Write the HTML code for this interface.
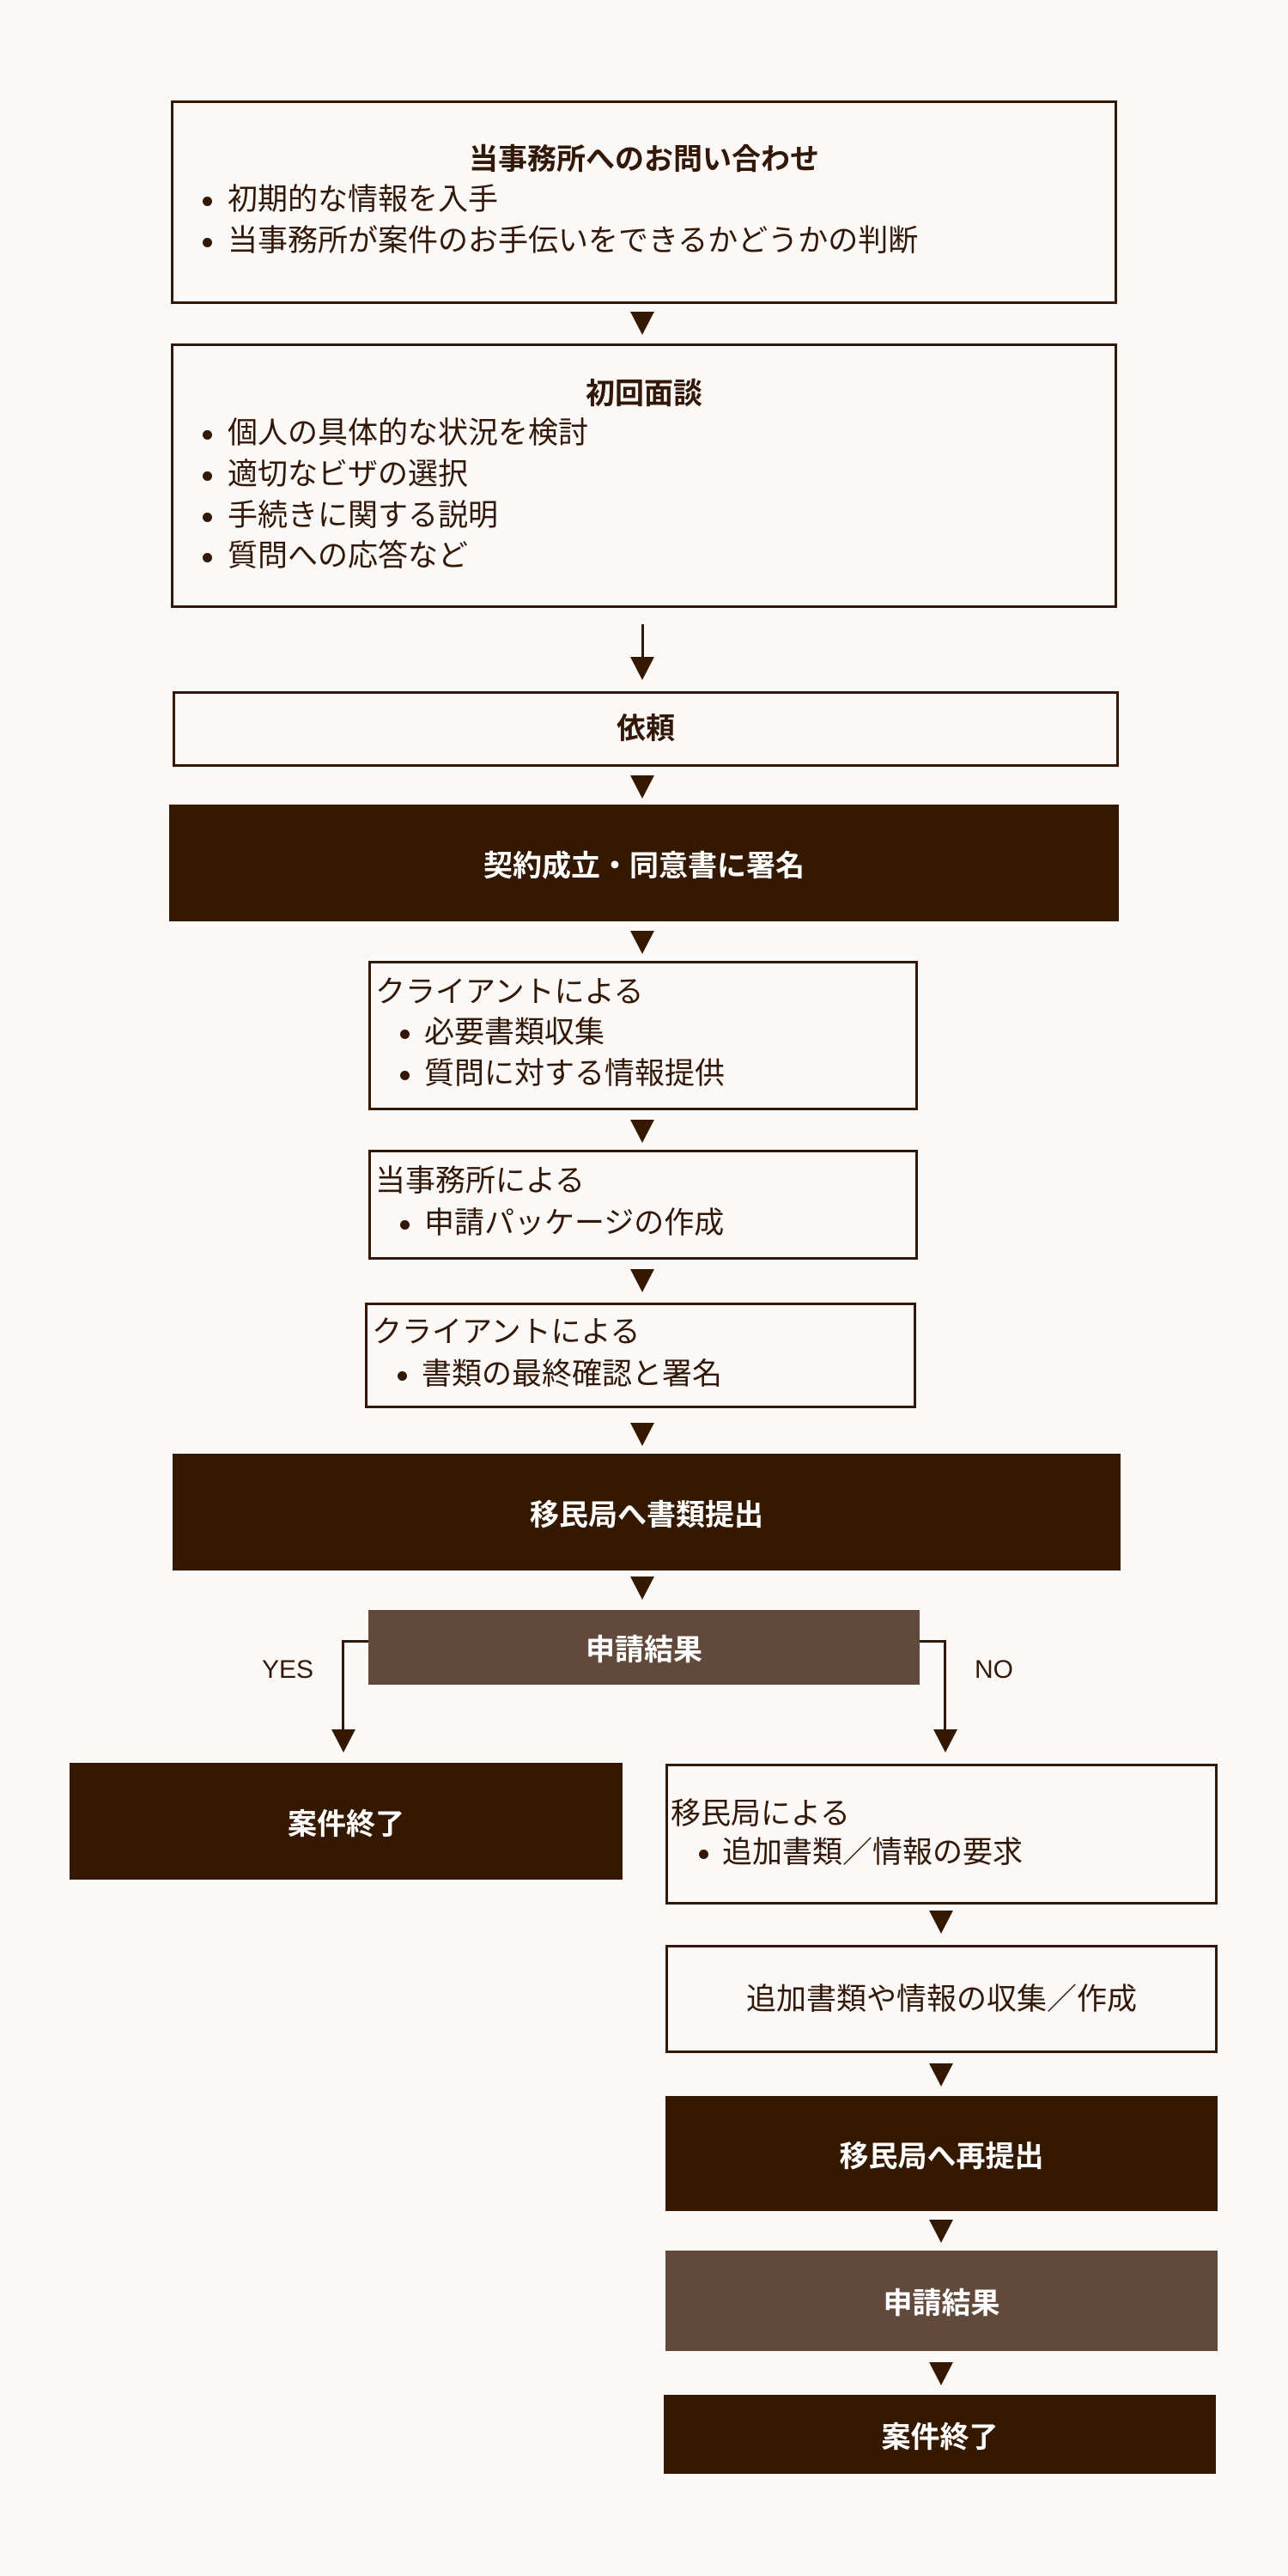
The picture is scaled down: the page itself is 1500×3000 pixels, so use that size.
<!DOCTYPE html>
<html><head><meta charset="utf-8"><style>
*{box-sizing:border-box;margin:0;padding:0}
body{width:1500px;height:3000px;background:#faf9f7;position:relative;font-family:"Liberation Sans","Noto Sans CJK JP",sans-serif;color:#331807;overflow:hidden}
.b{position:absolute;border:3px solid #331807;background:#faf9f7}
.d{position:absolute;background:#341800;color:#fff;font-weight:bold;font-size:34px;display:flex;align-items:center;justify-content:center}
.m{background:#614a3b}
.t{position:absolute;font-size:35px;white-space:nowrap;line-height:44px}
.bo{font-weight:bold;font-size:34px}
.c{text-align:center;left:0;right:0}
.dot{position:absolute;width:11px;height:11px;border-radius:50%;background:#331807}
.tri{position:absolute;width:0;height:0;border-left:14px solid transparent;border-right:14px solid transparent;border-top:27px solid #341800}
.v{position:absolute;width:3px;background:#331807}
.h{position:absolute;height:3px;background:#331807}
</style></head><body>

<div class="b" style="left:199px;top:117px;width:1102px;height:237px"></div>
<div class="t bo c" style="left:199px;width:1102px;top:164px">当事務所へのお問い合わせ</div>
<div class="dot" style="left:236px;top:229px"></div><div class="t" style="left:265px;top:211px">初期的な情報を入手</div>
<div class="dot" style="left:236px;top:277px"></div><div class="t" style="left:265px;top:259px">当事務所が案件のお手伝いをできるかどうかの判断</div>

<div class="tri" style="left:734px;top:363px"></div>

<div class="b" style="left:199px;top:400px;width:1102px;height:308px"></div>
<div class="t bo c" style="left:199px;width:1102px;top:437px">初回面談</div>
<div class="dot" style="left:236px;top:501px"></div><div class="t" style="left:265px;top:483px">個人の具体的な状況を検討</div>
<div class="dot" style="left:236px;top:549px"></div><div class="t" style="left:265px;top:531px">適切なビザの選択</div>
<div class="dot" style="left:236px;top:597px"></div><div class="t" style="left:265px;top:579px">手続きに関する説明</div>
<div class="dot" style="left:236px;top:644px"></div><div class="t" style="left:265px;top:626px">質問への応答など</div>

<div class="v" style="left:747px;top:727px;height:40px"></div>
<div class="tri" style="left:734px;top:765px"></div>

<div class="b" style="left:201px;top:805px;width:1102px;height:88px"></div>
<div class="t bo c" style="left:201px;width:1102px;top:827px">依頼</div>

<div class="tri" style="left:734px;top:903px"></div>
<div class="d" style="left:197px;top:937px;width:1106px;height:136px">契約成立・同意書に署名</div>

<div class="tri" style="left:734px;top:1084px"></div>
<div class="b" style="left:429px;top:1119px;width:640px;height:174px"></div>
<div class="t" style="left:437px;top:1134px">クライアントによる</div>
<div class="dot" style="left:466px;top:1199px"></div><div class="t" style="left:494px;top:1181px">必要書類収集</div>
<div class="dot" style="left:466px;top:1247px"></div><div class="t" style="left:494px;top:1229px">質問に対する情報提供</div>

<div class="tri" style="left:734px;top:1304px"></div>
<div class="b" style="left:429px;top:1339px;width:640px;height:128px"></div>
<div class="t" style="left:437px;top:1354px">当事務所による</div>
<div class="dot" style="left:466px;top:1421px"></div><div class="t" style="left:494px;top:1403px">申請パッケージの作成</div>

<div class="tri" style="left:734px;top:1478px"></div>
<div class="b" style="left:425px;top:1517px;width:642px;height:123px"></div>
<div class="t" style="left:433px;top:1530px">クライアントによる</div>
<div class="dot" style="left:463px;top:1597px"></div><div class="t" style="left:491px;top:1579px">書類の最終確認と署名</div>

<div class="tri" style="left:734px;top:1657px"></div>
<div class="d" style="left:201px;top:1693px;width:1104px;height:136px">移民局へ書類提出</div>

<div class="tri" style="left:734px;top:1836px"></div>
<div class="d m" style="left:429px;top:1875px;width:642px;height:87px">申請結果</div>

<div class="h" style="left:398px;top:1910px;width:31px"></div>
<div class="v" style="left:398px;top:1910px;height:110px"></div>
<div class="tri" style="left:386px;top:2014px"></div>
<div class="h" style="left:1071px;top:1910px;width:31px"></div>
<div class="v" style="left:1099px;top:1910px;height:110px"></div>
<div class="tri" style="left:1087px;top:2014px"></div>
<div class="t" style="left:305px;top:1923px;font-size:30px">YES</div>
<div class="t" style="left:1135px;top:1923px;font-size:30px">NO</div>

<div class="d" style="left:81px;top:2053px;width:644px;height:136px">案件終了</div>

<div class="b" style="left:775px;top:2054px;width:643px;height:164px"></div>
<div class="t" style="left:781px;top:2091px">移民局による</div>
<div class="dot" style="left:814px;top:2154px"></div><div class="t" style="left:841px;top:2136px">追加書類／情報の要求</div>

<div class="tri" style="left:1082px;top:2225px"></div>
<div class="b" style="left:775px;top:2265px;width:643px;height:126px"></div>
<div class="t c" style="left:775px;width:643px;top:2307px">追加書類や情報の収集／作成</div>

<div class="tri" style="left:1082px;top:2403px"></div>
<div class="d" style="left:775px;top:2441px;width:643px;height:134px">移民局へ再提出</div>

<div class="tri" style="left:1082px;top:2585px"></div>
<div class="d m" style="left:775px;top:2621px;width:643px;height:117px">申請結果</div>

<div class="tri" style="left:1082px;top:2751px"></div>
<div class="d" style="left:773px;top:2789px;width:643px;height:92px">案件終了</div>

</body></html>
